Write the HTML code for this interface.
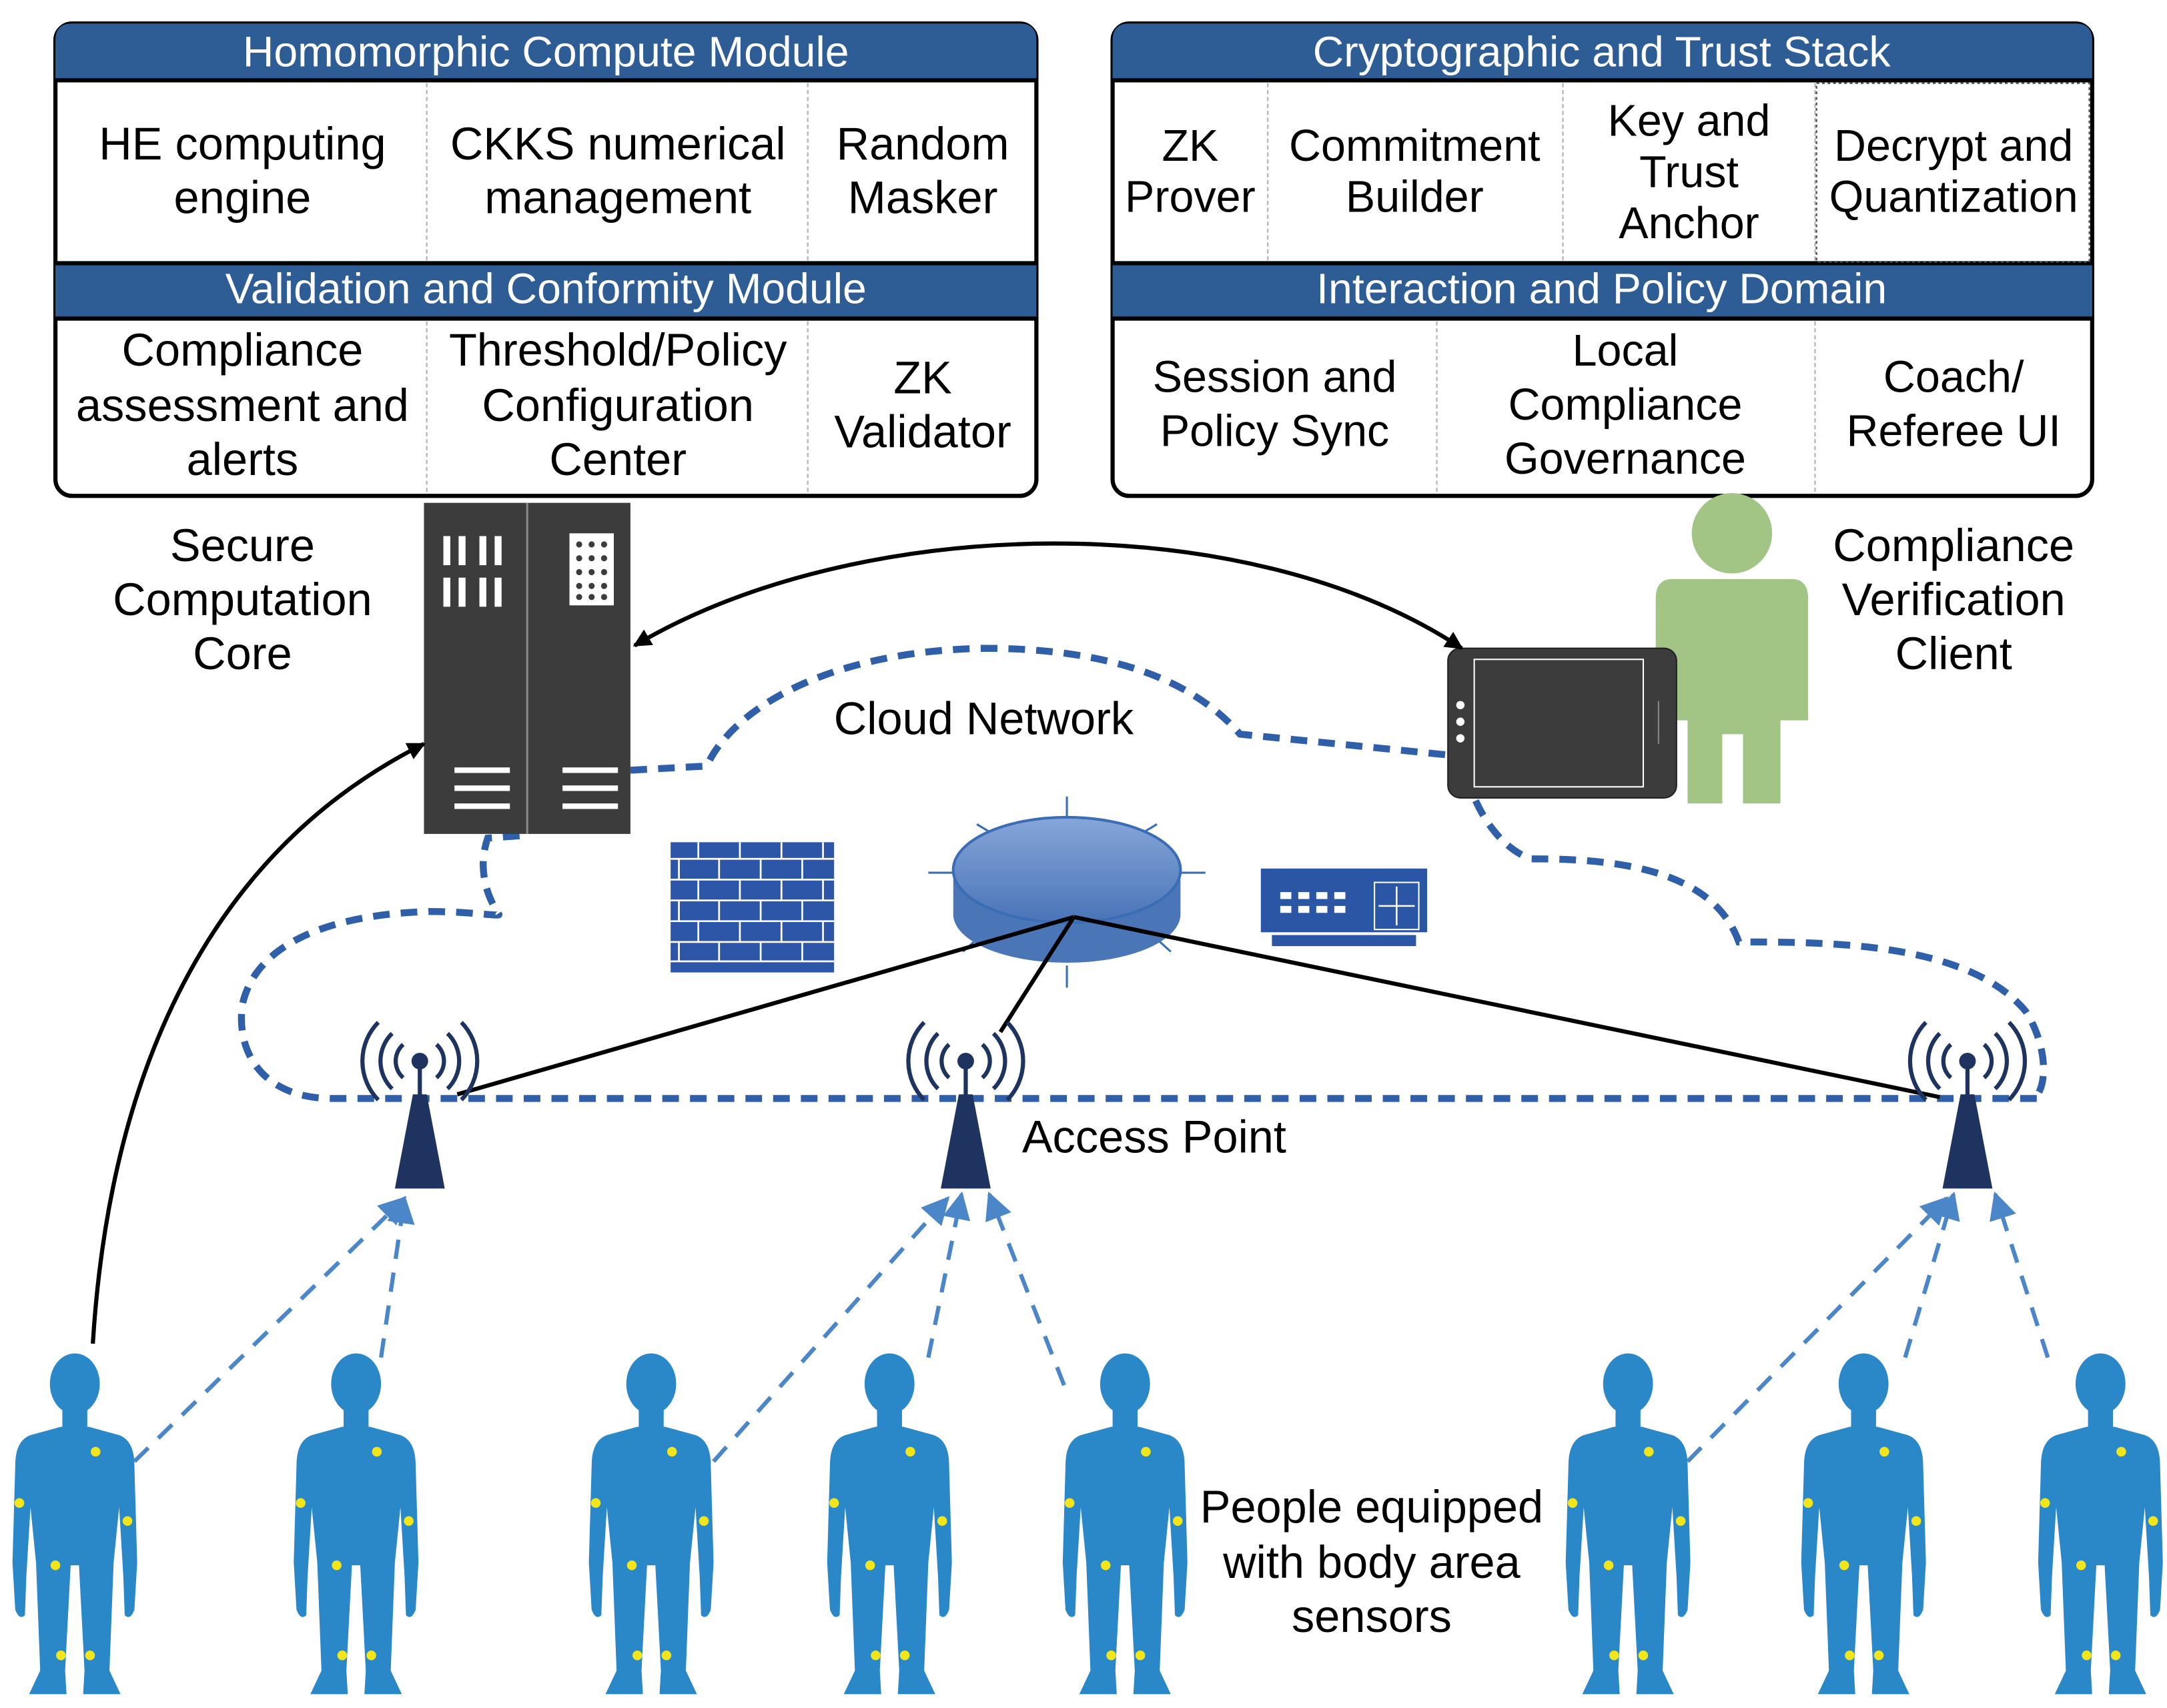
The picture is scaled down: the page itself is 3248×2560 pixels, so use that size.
<!DOCTYPE html>
<html><head><meta charset="utf-8"><style>
html,body{margin:0;padding:0;background:#fff;}
svg{display:block;}
text{font-family:"Liberation Sans",sans-serif;}
</style></head><body>
<svg width="3248" height="2560" viewBox="0 0 1564 1233" preserveAspectRatio="none" xmlns="http://www.w3.org/2000/svg">
<defs>
<marker id="ab" viewBox="0 0 10 10" refX="9" refY="5" markerWidth="13" markerHeight="13" orient="auto-start-reverse" markerUnits="userSpaceOnUse"><path d="M0 0 L10 5 L0 10 z" fill="#000"/></marker>
<marker id="abl" viewBox="0 0 10 10" refX="9" refY="5" markerWidth="20" markerHeight="20" orient="auto" markerUnits="userSpaceOnUse"><path d="M0 0 L10 5 L0 10 z" fill="#4a86c8"/></marker>
<linearGradient id="rg" x1="0" y1="0" x2="0" y2="1"><stop offset="0" stop-color="#86a6d8"/><stop offset="1" stop-color="#4a74b8"/></linearGradient>
<g id="person">
<ellipse cx="0" cy="21" rx="18" ry="22" fill="#2a88c8"/>
<rect x="-9" y="34" width="18" height="22" fill="#2a88c8"/>
<path d="M-10 52 L-32 58 Q-43 62 -43 80 L-45 150 L-43 184 Q-40 192 -36 188 L-35 160 L-32 110 L-30 130 L-28 150 L-25 228 L-33 245 L-6 245 L-7 228 L-3 152 L3 152 L7 228 L6 245 L33 245 L25 228 L28 150 L30 130 L32 110 L35 160 L36 188 Q40 192 43 184 L45 150 L43 80 Q43 62 32 58 L10 52 Z" fill="#2a88c8"/>
<g fill="#f2e51a"><circle cx="15" cy="70" r="3.5"/><circle cx="-40" cy="107" r="3.5"/><circle cx="38" cy="120" r="3.5"/><circle cx="-14" cy="152" r="3.5"/><circle cx="-10" cy="217" r="3.5"/><circle cx="11" cy="217" r="3.5"/></g>
</g>
<g id="ap">
<path d="M-5 0 L5 0 L18 68 L-18 68 Z" fill="#1e335f"/>
<line x1="0" y1="-22" x2="0" y2="2" stroke="#1e335f" stroke-width="3"/>
<circle cx="0" cy="-24" r="6" fill="#1e335f"/>
<g fill="none" stroke="#1e335f" stroke-width="3">
<path d="M-12 -36 A16 16 0 0 0 -12 -12"/><path d="M12 -36 A16 16 0 0 1 12 -12"/>
<path d="M-20 -44 A28 28 0 0 0 -20 -4"/><path d="M20 -44 A28 28 0 0 1 20 -4"/>
<path d="M-30 -52 A40 40 0 0 0 -30 4"/><path d="M30 -52 A40 40 0 0 1 30 4"/>
</g>
</g>
</defs>

<rect x="40" y="17" width="708" height="341" rx="12" fill="#fff" stroke="#000" stroke-width="3"/>
<path d="M40 57 L40 29 Q40 17 52 17 L736 17 Q748 17 748 29 L748 57 Z" fill="#2e5c94"/>
<rect x="40" y="190" width="708" height="40" fill="#2e5c94"/>
<g stroke="#000" stroke-width="3"><line x1="40" y1="58" x2="748" y2="58"/><line x1="40" y1="190" x2="748" y2="190"/><line x1="40" y1="230" x2="748" y2="230"/></g>
<g stroke="#bbb" stroke-width="1.2" stroke-dasharray="3,2"><line x1="308" y1="60" x2="308" y2="189"/><line x1="583" y1="60" x2="583" y2="189"/><line x1="308" y1="232" x2="308" y2="356"/><line x1="583" y1="232" x2="583" y2="356"/></g>
<g fill="#fff" font-size="31" text-anchor="middle"><text x="394" y="48">Homomorphic Compute Module</text><text x="394" y="219">Validation and Conformity Module</text></g>
<g font-size="33" text-anchor="middle" fill="#000">
<text x="175" y="115">HE computing</text><text x="175" y="154">engine</text>
<text x="446" y="115">CKKS numerical</text><text x="446" y="154">management</text>
<text x="666" y="115">Random</text><text x="666" y="154">Masker</text>
<text x="175" y="264">Compliance</text><text x="175" y="304">assessment and</text><text x="175" y="343">alerts</text>
<text x="446" y="264">Threshold/Policy</text><text x="446" y="304">Configuration</text><text x="446" y="343">Center</text>
<text x="666" y="284">ZK</text><text x="666" y="323">Validator</text>
</g>

<rect x="803" y="17" width="707" height="341" rx="12" fill="#fff" stroke="#000" stroke-width="3"/>
<path d="M803 57 L803 29 Q803 17 815 17 L1498 17 Q1510 17 1510 29 L1510 57 Z" fill="#2e5c94"/>
<rect x="803" y="190" width="707" height="40" fill="#2e5c94"/>
<g stroke="#000" stroke-width="3"><line x1="803" y1="58" x2="1510" y2="58"/><line x1="803" y1="190" x2="1510" y2="190"/><line x1="803" y1="230" x2="1510" y2="230"/></g>
<g stroke="#bbb" stroke-width="1.2" stroke-dasharray="3,2"><line x1="915" y1="60" x2="915" y2="189"/><line x1="1128" y1="60" x2="1128" y2="189"/><line x1="1310" y1="60" x2="1310" y2="189"/><line x1="1037" y1="232" x2="1037" y2="356"/><line x1="1310" y1="232" x2="1310" y2="356"/></g>
<rect x="1311" y="60" width="197" height="129" fill="none" stroke="#555" stroke-width="1.2" stroke-dasharray="2,2"/>
<g fill="#fff" font-size="31" text-anchor="middle"><text x="1156" y="48">Cryptographic and Trust Stack</text><text x="1156" y="219">Interaction and Policy Domain</text></g>
<g font-size="32" text-anchor="middle" fill="#000">
<text x="859" y="116">ZK</text><text x="859" y="153">Prover</text>
<text x="1021" y="116">Commitment</text><text x="1021" y="153">Builder</text>
<text x="1219" y="98">Key and</text><text x="1219" y="135">Trust</text><text x="1219" y="172">Anchor</text>
<text x="1410" y="116">Decrypt and</text><text x="1410" y="153">Quantization</text>
<text x="920" y="283">Session and</text><text x="920" y="322">Policy Sync</text>
<text x="1173" y="264">Local</text><text x="1173" y="303">Compliance</text><text x="1173" y="342">Governance</text>
<text x="1410" y="283">Coach/</text><text x="1410" y="322">Referee UI</text>
</g>

<g font-size="33" text-anchor="middle" fill="#000">
<text x="175" y="405">Secure</text><text x="175" y="444">Computation</text><text x="175" y="483">Core</text>
<text x="1410" y="405">Compliance</text><text x="1410" y="444">Verification</text><text x="1410" y="483">Client</text>
<text x="710" y="530">Cloud Network</text>
<text x="833" y="832">Access Point</text>
<text x="990" y="1099">People equipped</text><text x="990" y="1139">with body area</text><text x="990" y="1178">sensors</text>
</g>

<path d="M1470 793 L240 793 C190 793 170 760 175 725 C185 680 240 660 310 658 C340 658 362 662 360 660 C350 645 345 625 352 605 L380 603 M455 556 L510 553 C530 510 600 470 710 468 C800 468 860 490 895 530 L1045 545 M1065 578 C1075 600 1090 615 1105 620 C1160 620 1235 625 1255 680 C1320 680 1420 680 1462 730 C1478 755 1478 785 1468 793"
 fill="none" stroke="#2f5fa8" stroke-width="5" stroke-dasharray="12,8"/>

<rect x="306" y="363" width="149" height="239" fill="#3c3c3c"/>
<line x1="380.5" y1="363" x2="380.5" y2="602" stroke="#888" stroke-width="1.5"/>
<g fill="#fff">
<rect x="320" y="387" width="5" height="21"/><rect x="331" y="387" width="5" height="21"/><rect x="346" y="387" width="5" height="21"/><rect x="357" y="387" width="5" height="21"/>
<rect x="320" y="417" width="5" height="21"/><rect x="331" y="417" width="5" height="21"/><rect x="346" y="417" width="5" height="21"/><rect x="357" y="417" width="5" height="21"/>
<rect x="411" y="385" width="32" height="52"/>
<rect x="328" y="554" width="40" height="4"/><rect x="328" y="567" width="40" height="4"/><rect x="328" y="580" width="40" height="4"/>
<rect x="406" y="554" width="40" height="4"/><rect x="406" y="567" width="40" height="4"/><rect x="406" y="580" width="40" height="4"/>
</g>
<g fill="#3c3c3c">
<circle cx="418" cy="393" r="2.2"/><circle cx="427" cy="393" r="2.2"/><circle cx="436" cy="393" r="2.2"/>
<circle cx="418" cy="403" r="2.2"/><circle cx="427" cy="403" r="2.2"/><circle cx="436" cy="403" r="2.2"/>
<circle cx="418" cy="413" r="2.2"/><circle cx="427" cy="413" r="2.2"/><circle cx="436" cy="413" r="2.2"/>
<circle cx="418" cy="423" r="2.2"/><circle cx="427" cy="423" r="2.2"/><circle cx="436" cy="423" r="2.2"/>
<circle cx="418" cy="431" r="2.2"/><circle cx="427" cy="431" r="2.2"/><circle cx="436" cy="431" r="2.2"/>
</g>

<g fill="#a2c586">
<circle cx="1250" cy="385" r="29"/>
<path d="M1207 418 L1293 418 Q1305 418 1305 432 L1305 520 L1285 520 L1285 580 L1258 580 L1258 530 L1243 530 L1243 580 L1218 580 L1218 520 L1195 520 L1195 432 Q1195 418 1207 418 Z"/>
</g>
<rect x="1045" y="468" width="165" height="108" rx="9" fill="#3c3c3c" stroke="#222" stroke-width="1"/>
<rect x="1064" y="476" width="122" height="92" fill="#3c3c3c" stroke="#fff" stroke-width="1"/>
<g fill="#fff"><circle cx="1054" cy="509" r="3"/><circle cx="1054" cy="521" r="3"/><circle cx="1054" cy="533" r="3"/></g>
<line x1="1197" y1="506" x2="1197" y2="537" stroke="#888" stroke-width="1"/>

<rect x="484" y="608" width="118" height="94" fill="#2e56a8"/>
<g stroke="#fff" stroke-width="1.3">
<line x1="484" y1="620" x2="602" y2="620"/><line x1="484" y1="635" x2="602" y2="635"/><line x1="484" y1="650" x2="602" y2="650"/><line x1="484" y1="665" x2="602" y2="665"/><line x1="484" y1="680" x2="602" y2="680"/><line x1="484" y1="694" x2="602" y2="694"/>
<line x1="504" y1="608" x2="504" y2="620"/><line x1="534" y1="608" x2="534" y2="620"/><line x1="564" y1="608" x2="564" y2="620"/><line x1="594" y1="608" x2="594" y2="620"/>
<line x1="490" y1="620" x2="490" y2="635"/><line x1="519" y1="620" x2="519" y2="635"/><line x1="549" y1="620" x2="549" y2="635"/><line x1="579" y1="620" x2="579" y2="635"/>
<line x1="504" y1="635" x2="504" y2="650"/><line x1="534" y1="635" x2="534" y2="650"/><line x1="564" y1="635" x2="564" y2="650"/><line x1="594" y1="635" x2="594" y2="650"/>
<line x1="490" y1="650" x2="490" y2="665"/><line x1="519" y1="650" x2="519" y2="665"/><line x1="549" y1="650" x2="549" y2="665"/><line x1="579" y1="650" x2="579" y2="665"/>
<line x1="504" y1="665" x2="504" y2="680"/><line x1="534" y1="665" x2="534" y2="680"/><line x1="564" y1="665" x2="564" y2="680"/><line x1="594" y1="665" x2="594" y2="680"/>
<line x1="490" y1="680" x2="490" y2="694"/><line x1="519" y1="680" x2="519" y2="694"/><line x1="549" y1="680" x2="549" y2="694"/><line x1="579" y1="680" x2="579" y2="694"/>
</g>

<g stroke="#3a6db5" stroke-width="1.5">
<line x1="770" y1="575" x2="770" y2="592"/><line x1="705" y1="595" x2="725" y2="607"/><line x1="835" y1="595" x2="815" y2="607"/>
<line x1="670" y1="630" x2="690" y2="630"/><line x1="850" y1="630" x2="870" y2="630"/><line x1="770" y1="697" x2="770" y2="713"/><line x1="835" y1="678" x2="845" y2="687"/><line x1="705" y1="678" x2="695" y2="687"/>
</g>
<path d="M688 628 L688 660 A82 35 0 0 0 852 660 L852 628 Z" fill="#4a76b8"/>
<ellipse cx="770" cy="628" rx="82" ry="38" fill="url(#rg)" stroke="#3a6db5" stroke-width="2"/>

<rect x="910" y="627" width="120" height="46" fill="#2b56a6"/>
<rect x="918" y="675" width="104" height="8" fill="#2b56a6"/>
<g fill="#fff"><rect x="924" y="644" width="8" height="5"/><rect x="937" y="644" width="8" height="5"/><rect x="950" y="644" width="8" height="5"/><rect x="963" y="644" width="8" height="5"/>
<rect x="924" y="654" width="8" height="5"/><rect x="937" y="654" width="8" height="5"/><rect x="950" y="654" width="8" height="5"/><rect x="963" y="654" width="8" height="5"/></g>
<rect x="992" y="637" width="32" height="34" fill="none" stroke="#fff" stroke-width="1"/>
<g stroke="#fff" stroke-width="1.2"><line x1="1008" y1="640" x2="1008" y2="668"/><line x1="995" y1="654" x2="1021" y2="654"/></g>

<g stroke="#000" stroke-width="3" fill="none">
<line x1="775" y1="662" x2="330" y2="790"/>
<line x1="775" y1="662" x2="722" y2="745"/>
<line x1="775" y1="662" x2="1400" y2="792"/>
</g>

<use href="#ap" x="303" y="790"/>
<use href="#ap" x="697" y="790"/>
<use href="#ap" x="1420" y="790"/>

<path d="M1055 468 C900 365 620 370 458 466" fill="none" stroke="#000" stroke-width="3" marker-start="url(#ab)" marker-end="url(#ab)"/>
<path d="M67 970 C80 760 160 610 306 537" fill="none" stroke="#000" stroke-width="3" marker-end="url(#ab)"/>

<g stroke="#4a86c8" stroke-width="3" stroke-dasharray="14,10" fill="none" marker-end="url(#abl)">
<line x1="97" y1="1055" x2="292" y2="865"/>
<line x1="275" y1="980" x2="292" y2="865"/>
<line x1="515" y1="1055" x2="684" y2="865"/>
<line x1="670" y1="980" x2="694" y2="862"/>
<line x1="768" y1="1000" x2="714" y2="862"/>
<line x1="1218" y1="1055" x2="1405" y2="865"/>
<line x1="1375" y1="980" x2="1410" y2="862"/>
<line x1="1478" y1="980" x2="1440" y2="862"/>
</g>

<use href="#person" x="54" y="978"/>
<use href="#person" x="257" y="978"/>
<use href="#person" x="470" y="978"/>
<use href="#person" x="642" y="978"/>
<use href="#person" x="812" y="978"/>
<use href="#person" x="1175" y="978"/>
<use href="#person" x="1345" y="978"/>
<use href="#person" x="1516" y="978"/>
</svg>
</body></html>
